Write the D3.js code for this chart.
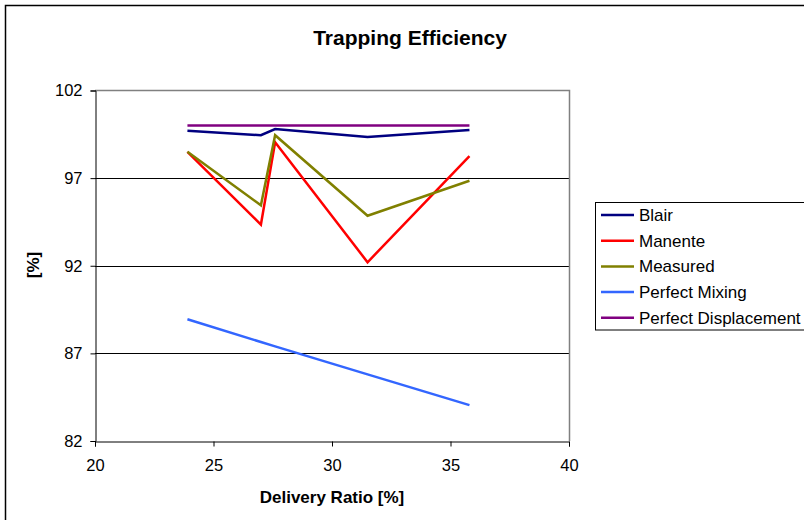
<!DOCTYPE html>
<html>
<head>
<meta charset="utf-8">
<script src="https://cdn.jsdelivr.net/npm/d3@7"></script>
<style>
  html, body { margin: 0; padding: 0; background: #fff; }
  svg { display: block; font-family: "Liberation Sans", Arial, sans-serif; }
</style>
</head>
<body>
<svg id="chart" width="804" height="520"></svg>
<script>
// Delivery ratio [%] for each measurement point
const deliveryRatio = [23.9, 27.0, 27.6, 31.5, 35.8];

// Trapping efficiency [%] per model / measurement
const blair = [99.7, 99.45, 99.8, 99.35, 99.75];
const manente = [98.5, 94.35, 99.05, 92.2, 98.25];
const measured = [98.5, 95.45, 99.45, 94.85, 96.85];
const perfectMixing = [88.95, 87.65, 87.4, 85.8, 84.05];
const perfectDisplacement = [100, 100, 100, 100, 100];

const seriesNames = ["Blair", "Manente", "Measured", "Perfect Mixing", "Perfect Displacement"];
const seriesColors = ["#000080", "#ff0000", "#808000", "#3366ff", "#800080"];
const seriesValues = [blair, manente, measured, perfectMixing, perfectDisplacement];

const xTicks = [20, 25, 30, 35, 40];
const yTicks = [82, 87, 92, 97, 102];

const svg = d3.select("#chart");

// outer chart frame
svg.append("rect")
  .attr("x", 5.5).attr("y", 5.5)
  .attr("width", 830).attr("height", 540)
  .attr("fill", "#fff").attr("stroke", "#000").attr("stroke-width", 1.5);

const plot = { left: 95, top: 90.5, right: 569, bottom: 441 };

const x = d3.scaleLinear().domain([20, 40]).range([plot.left, plot.right]);
const y = d3.scaleLinear().domain([82, 102]).range([plot.bottom, plot.top]);

// title
svg.append("text")
  .attr("x", 410).attr("y", 45)
  .attr("text-anchor", "middle")
  .attr("font-weight", "bold").attr("font-size", 21)
  .text("Trapping Efficiency");

// gridlines
svg.append("g")
  .selectAll("line")
  .data(yTicks.filter(t => t > 82 && t < 102))
  .join("line")
  .attr("x1", plot.left).attr("x2", plot.right)
  .attr("y1", d => Math.round(y(d)) + 0.5).attr("y2", d => Math.round(y(d)) + 0.5)
  .attr("stroke", "#000").attr("stroke-width", 1);

// gray plot border (top and right)
svg.append("path")
  .attr("d", `M${plot.left},${plot.top}H${plot.right + 0.5}V${plot.bottom}`)
  .attr("fill", "none").attr("stroke", "#808080").attr("stroke-width", 1.5);

// y axis
const yAxis = d3.axisLeft(y).tickValues(yTicks).tickSize(5).tickPadding(8).tickFormat(d3.format("d"));
const gy = svg.append("g").attr("transform", `translate(${plot.left + 0.5},0)`).call(yAxis);
gy.select(".domain").attr("stroke", "#000");
gy.selectAll(".tick line").attr("stroke", "#000");
gy.selectAll("text").attr("font-size", 16.5).attr("fill", "#000")
  .attr("font-family", "Liberation Sans, Arial, sans-serif");

// x axis
const xAxis = d3.axisBottom(x).tickValues(xTicks).tickSize(5).tickPadding(13).tickFormat(d3.format("d"));
const gx = svg.append("g").attr("transform", `translate(0,${plot.bottom + 0.5})`).call(xAxis);
gx.select(".domain").attr("stroke", "#000");
gx.selectAll(".tick line").attr("stroke", "#000");
gx.selectAll("text").attr("font-size", 16.5).attr("fill", "#000")
  .attr("font-family", "Liberation Sans, Arial, sans-serif");

// axis titles
svg.append("text")
  .attr("x", 332).attr("y", 502.5)
  .attr("text-anchor", "middle")
  .attr("font-weight", "bold").attr("font-size", 17)
  .text("Delivery Ratio [%]");

svg.append("text")
  .attr("transform", "translate(39,265) rotate(-90)")
  .attr("text-anchor", "middle")
  .attr("font-weight", "bold").attr("font-size", 17)
  .text("[%]");

// series lines
const line = d3.line().x((d, i) => x(deliveryRatio[i])).y(d => y(d));
svg.append("g")
  .selectAll("path")
  .data(seriesValues)
  .join("path")
  .attr("d", d => line(d))
  .attr("fill", "none")
  .attr("stroke", (d, i) => seriesColors[i])
  .attr("stroke-width", 2.5)
  .attr("stroke-linejoin", "miter");

// legend
const legend = svg.append("g");
legend.append("rect")
  .attr("x", 595.5).attr("y", 202.5)
  .attr("width", 260).attr("height", 127.5)
  .attr("fill", "#fff").attr("stroke", "#000").attr("stroke-width", 1);

const rows = legend.selectAll("g.row")
  .data(seriesNames)
  .join("g")
  .attr("class", "row")
  .attr("transform", (d, i) => `translate(0,${215 + i * 25.7})`);
rows.append("line")
  .attr("x1", 601).attr("x2", 634)
  .attr("stroke", (d, i) => seriesColors[i]).attr("stroke-width", 2.5);
rows.append("text")
  .attr("x", 639).attr("y", 6)
  .attr("font-size", 17)
  .text(d => d);
</script>
</body>
</html>
